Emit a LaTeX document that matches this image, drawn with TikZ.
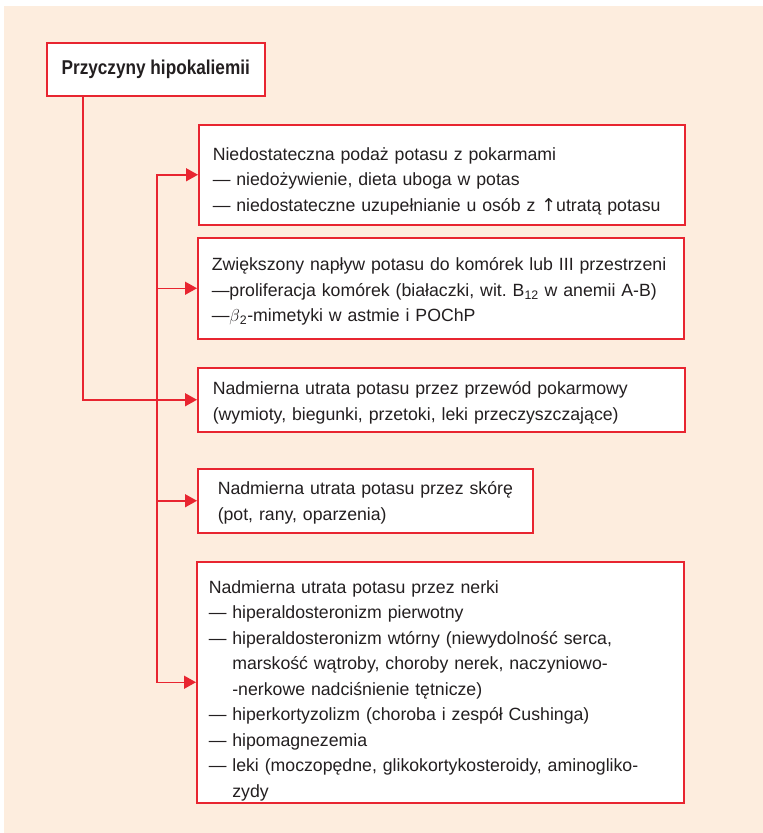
\documentclass[tikz,border=0pt]{standalone}
\usepackage{fontspec}
\setmainfont{Liberation Sans}
\newfontfamily\titlefont{Liberation Sans}[FakeStretch=0.86]
\newfontfamily\symfont{DejaVu Sans}
\usetikzlibrary{arrows.meta}
\definecolor{bg}{RGB}{253,237,222}
\definecolor{lred}{RGB}{232,37,48}
\definecolor{ink}{RGB}{35,31,32}
\frenchspacing
\begin{document}
\begin{tikzpicture}[x=1pt,y=-1pt,
  box/.style={draw=lred, line width=1.5pt, fill=white, rectangle, anchor=north west,
    align=left, text=ink, font=\fontsize{17.7pt}{25.5pt}\selectfont, inner ysep=0pt},
  conn/.style={draw=lred, line width=1.5pt, -{Triangle[length=12pt,width=13pt]}}]
\useasboundingbox (0,0) rectangle (763,833);
\fill[bg] (4,6) rectangle (763,833);

\node[box, minimum width=218pt, minimum height=53pt, align=center,
  font=\titlefont\bfseries\fontsize{20pt}{24pt}\selectfont] (t) at (46,42) {Przyczyny hipokaliemii};

\node[box, minimum width=486pt, minimum height=100pt, inner xsep=14pt, text width=458pt] (b1) at (198,124)
 {\rule{0pt}{26pt}Niedostateczna podaż potasu z pokarmami\\
  — niedożywienie, dieta uboga w potas\\
  \mbox{— niedostateczne uzupełnianie u osób z {\symfont ↑}utratą potasu}};

\node[box, minimum width=486pt, minimum height=101pt, inner xsep=14pt, text width=458pt] (b2) at (197,237)
 {\rule{0pt}{20pt}\mbox{Zwiększony napływ potasu do komórek lub III przestrzeni}\\
  \mbox{—proliferacja komórek (białaczki, wit. B\textsubscript{12} w anemii A-B)}\\
  —$\beta$\textsubscript{2}-mimetyki w astmie i POChP};

\node[box, minimum width=487pt, minimum height=64pt, inner xsep=15pt, text width=457pt] (b3) at (197,367)
 {\rule{0pt}{19pt}\mbox{Nadmierna utrata potasu przez przewód pokarmowy}\\
  \mbox{(wymioty, biegunki, przetoki, leki przeczyszczające)}};

\node[box, minimum width=335pt, minimum height=64pt, inner xsep=20pt, text width=295pt] (b4) at (197,468)
 {\rule{0pt}{17pt}\mbox{Nadmierna utrata potasu przez skórę}\\
  \mbox{(pot, rany, oparzenia)}};

\node[box, minimum width=487pt, minimum height=241pt, inner xsep=12pt, text width=463pt] (b5) at (196,561)
 {\rule{0pt}{30pt}Nadmierna utrata potasu przez nerki\\
  — hiperaldosteronizm pierwotny\\
  — hiperaldosteronizm wtórny (niewydolność serca,\\
  \phantom{— }marskość wątroby, choroby nerek, naczyniowo-\\
  \phantom{— }-nerkowe nadciśnienie tętnicze)\\
  — hiperkortyzolizm (choroba i zespół Cushinga)\\
  — hipomagnezemia\\
  \mbox{— leki (moczopędne, glikokortykosteroidy, aminogliko-}\\
  \phantom{— }zydy};

\coordinate (m) at (83,0);
\coordinate (v) at (157,0);

\draw[conn] (t.south -| m) |- (b3.west);
\draw[conn] (b5.west -| v) |- (b1.west);
\draw[conn] (b1.west -| v) |- (b5.west);
\draw[conn] (b2.west -| v) -- (b2.west);
\draw[conn] (b4.west -| v) -- (b4.west);
\end{tikzpicture}
\end{document}
